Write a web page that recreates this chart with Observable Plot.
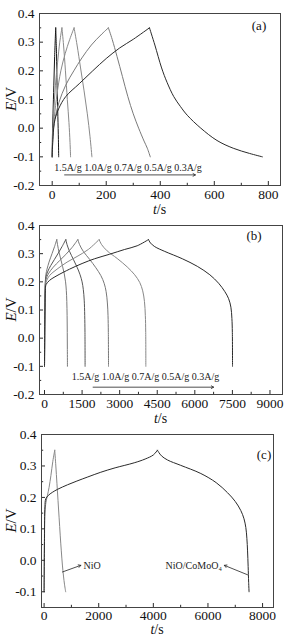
<!DOCTYPE html>
<html><head><meta charset="utf-8">
<script src="https://cdn.jsdelivr.net/npm/d3@7"></script>
<script src="https://cdn.jsdelivr.net/npm/@observablehq/plot@0.6"></script>
<style>
body{margin:0;background:#fff;}
#chart{width:293px;}
#chart svg{display:block;}
</style></head><body><div id="chart"></div>
<script>
// ---------- Panel (a): galvanostatic charge/discharge, short time range; [t (s), E (V)]
const rateLabels = ["1.5A/g", "1.0A/g", "0.7A/g", "0.5A/g", "0.3A/g"];
const a_15 = [[0,-0.1],[1,-0.02],[3,0.05],[6,0.15],[9,0.25],[13,0.35],[16,0.26],[18,0.15],[21,0.04],[23,-0.04],[24,-0.1]];
const a_10 = [[0,-0.1],[2,-0.02],[6,0.06],[12,0.15],[20,0.23],[28,0.3],[36,0.35],[42,0.29],[49,0.2],[56,0.1],[62,0.02],[66,-0.05],[68,-0.1]];
const a_07 = [[0,-0.1],[3,-0.02],[8,0.04],[18,0.12],[32,0.2],[48,0.26],[65,0.31],[81,0.35],[92,0.29],[105,0.21],[118,0.13],[130,0.05],[140,-0.03],[147,-0.1]];
const a_05 = [[0,-0.1],[3,-0.02],[10,0.03],[25,0.09],[50,0.15],[80,0.2],[110,0.245],[145,0.29],[180,0.325],[208,0.35],[222,0.31],[240,0.25],[260,0.18],[280,0.11],[300,0.05],[320,0.0],[340,-0.045],[352,-0.07],[363,-0.1]];
const a_03 = [[0,-0.1],[3,-0.03],[10,0.03],[25,0.07],[50,0.11],[100,0.155],[150,0.2],[200,0.243],[250,0.28],[300,0.31],[360,0.35],[380,0.29],[405,0.21],[425,0.16],[450,0.11],[475,0.075],[500,0.045],[550,0.0],[610,-0.043],[670,-0.07],[730,-0.088],[778,-0.1]];

// ---------- Panel (b): long-duration charge/discharge
const b_15 = [[0,-0.1],[10,0.05],[20,0.15],[35,0.205],[60,0.228],[100,0.245],[180,0.27],[300,0.3],[400,0.325],[490,0.35],[520,0.332],[580,0.305],[650,0.28],[720,0.255],[790,0.228],[840,0.2],[870,0.17],[890,0.13],[902,0.08],[908,0.02],[912,-0.04],[915,-0.1]];
const b_10 = [[0,-0.1],[10,0.05],[20,0.14],[35,0.198],[60,0.218],[120,0.235],[250,0.258],[400,0.28],[550,0.302],[700,0.325],[850,0.35],[900,0.332],[1000,0.308],[1150,0.28],[1300,0.252],[1420,0.225],[1500,0.2],[1550,0.172],[1585,0.135],[1605,0.08],[1615,0.02],[1620,-0.1]];
const b_07 = [[0,-0.1],[10,0.05],[20,0.13],[35,0.19],[60,0.208],[150,0.228],[350,0.252],[600,0.275],[850,0.297],[1100,0.322],[1330,0.35],[1400,0.332],[1550,0.308],[1800,0.28],[2050,0.25],[2250,0.222],[2380,0.195],[2460,0.165],[2510,0.125],[2535,0.08],[2548,0.02],[2555,-0.1]];
const b_05 = [[0,-0.1],[10,0.05],[20,0.12],[35,0.18],[60,0.198],[200,0.222],[500,0.245],[900,0.27],[1300,0.29],[1750,0.315],[2180,0.35],[2280,0.332],[2500,0.31],[2900,0.283],[3300,0.253],[3600,0.225],[3800,0.198],[3920,0.168],[3990,0.13],[4025,0.08],[4040,0.02],[4045,-0.1]];
const b_03 = [[0,-0.1],[10,0.05],[20,0.11],[35,0.17],[60,0.19],[200,0.205],[500,0.222],[1000,0.245],[1500,0.265],[2000,0.282],[2600,0.298],[3200,0.315],[3700,0.328],[4150,0.35],[4230,0.338],[4400,0.325],[4800,0.308],[5500,0.282],[6100,0.255],[6600,0.225],[6950,0.195],[7200,0.165],[7350,0.14],[7440,0.11],[7480,0.07],[7498,0.02],[7505,-0.1]];

// ---------- Panel (c): NiO vs NiO/CoMoO4
const materials = ["NiO", "NiO/CoMoO₄"];
const c_NiO = [[0,-0.1],[10,0.05],[30,0.15],[70,0.185],[120,0.205],[183,0.232],[250,0.27],[320,0.315],[390,0.35],[430,0.3],[470,0.245],[510,0.19],[550,0.135],[590,0.08],[630,0.03],[670,-0.015],[710,-0.05],[750,-0.078],[790,-0.1]];
const c_NiCo = [[0,-0.1],[15,0.07],[30,0.17],[60,0.195],[150,0.206],[300,0.216],[500,0.226],[855,0.24],[1200,0.252],[1600,0.265],[2076,0.28],[2600,0.294],[3300,0.31],[3700,0.322],[4000,0.335],[4150,0.35],[4200,0.343],[4300,0.332],[4518,0.319],[5000,0.302],[5739,0.276],[6300,0.247],[6716,0.215],[7000,0.187],[7204,0.158],[7320,0.132],[7387,0.104],[7425,0.07],[7450,0.03],[7472,-0.02],[7490,-0.07],[7505,-0.1]];

// ---------- Tick values
const aXMajor = [0,200,400,600,800], aXMinor = [100,300,500,700];
const bXMajor = [0,1500,3000,4500,6000,7500,9000], bXMinor = [750,2250,3750,5250,6750,8250];
const cXMajor = [0,2000,4000,6000,8000], cXMinor = [1000,3000,5000,7000];
const abYMajor = [-0.2,-0.1,0,0.1,0.2,0.3,0.4], abYMinor = [-0.15,-0.05,0.05,0.15,0.25,0.35];
const cYMajor = [-0.1,0,0.1,0.2,0.3,0.4], cYMinor = [-0.05,0.05,0.15,0.25,0.35];

const FONT = "Liberation Serif, Times New Roman, serif";
const INK = "#2a2a2a";

// split a charge/discharge curve at its peak so each branch is smoothed separately (sharp peak)
function branches(data) {
  let k = 0;
  data.forEach((d, i) => { if (d[1] > data[k][1]) k = i; });
  return [data.slice(0, k + 1), data.slice(k)];
}

function panel(o) {
  const [mt, mr, mb, ml] = o.margins;
  const W = 293, H = o.height;
  const ph = H - mt - mb, pw = W - ml - mr;
  const ty = (o.yDomain[1] - o.yDomain[0]) / ph;
  const tx = (o.xDomain[1] - o.xDomain[0]) / pw;
  const y0 = o.yDomain[0], x0 = o.xDomain[0];
  const lines = [];
  o.series.forEach(s => branches(s.data).forEach(part =>
    lines.push(Plot.line(part, {x: d => d[0], y: d => d[1], stroke: s.color, strokeWidth: 1, curve: "catmull-rom"}))));
  const marks = [
    ...lines,
    Plot.ruleX(o.xMajor, {x: d => d, y1: y0, y2: y0 + 4 * ty, stroke: INK}),
    Plot.ruleX(o.xMinor, {x: d => d, y1: y0, y2: y0 + 2.2 * ty, stroke: INK}),
    Plot.ruleY(o.yMajor, {y: d => d, x1: x0, x2: x0 + 4 * tx, stroke: INK}),
    Plot.ruleY(o.yMinor, {y: d => d, x1: x0, x2: x0 + 2.2 * tx, stroke: INK}),
    Plot.axisX(o.xMajor, {tickSize: 0, tickPadding: o.xPad, label: null, fill: "#111", fontSize: 13.5, tickFormat: d => String(d)}),
    Plot.axisY(o.yMajor, {tickSize: 0, tickPadding: 5, label: null, fill: "#111", fontSize: 13.5, tickFormat: d => d.toFixed(1)}),
    Plot.frame({stroke: "#444", strokeWidth: 1}),
    ...(o.extra || [])
  ];
  const fig = Plot.plot({
    width: W, height: H,
    marginTop: mt, marginRight: mr, marginBottom: mb, marginLeft: ml,
    x: {domain: o.xDomain}, y: {domain: o.yDomain},
    style: {fontFamily: FONT, fontSize: "13.5px", background: "#fff", color: "#111", overflow: "visible"},
    marks
  });
  const svg = d3.select(fig);
  const yr = fig.scale("y").range, xr = fig.scale("x").range;
  const cy = (yr[0] + yr[1]) / 2, cx = (xr[0] + xr[1]) / 2;
  const yl = svg.append("text")
    .attr("transform", `translate(11,${cy}) rotate(-90)`)
    .attr("text-anchor", "middle").attr("dy", "0.35em")
    .attr("font-family", FONT).attr("font-size", 15).attr("fill", "#111");
  yl.append("tspan").attr("font-style", "italic").text("E");
  yl.append("tspan").text("/V");
  const xl = svg.append("text")
    .attr("x", cx).attr("y", yr[0] + o.xLabelDy).attr("dy", "0.35em")
    .attr("text-anchor", "middle")
    .attr("font-family", FONT).attr("font-size", 14).attr("fill", "#111");
  xl.append("tspan").attr("font-style", "italic").text("t");
  xl.append("tspan").text("/s");
  svg.append("text")
    .attr("x", xr[1] - o.tagDx).attr("y", yr[1] + o.tagDy).attr("dy", "0.35em")
    .attr("text-anchor", "middle")
    .attr("font-family", FONT).attr("font-size", 13).attr("fill", "#111")
    .text(o.tag);
  return fig;
}

const rateText = rateLabels.join(" ");
const arrowStyle = {stroke: "#222", strokeWidth: 0.8, headLength: 5, bend: 0};

const figA = panel({
  height: 212, margins: [13, 13, 27, 39],
  xDomain: [-47, 845], yDomain: [-0.2, 0.4],
  xMajor: aXMajor, xMinor: aXMinor, yMajor: abYMajor, yMinor: abYMinor,
  xPad: 4, xLabelDy: 24,
  series: [
    {data: a_15, color: "#151515"}, {data: a_10, color: "#8a8a8a"}, {data: a_07, color: "#8a8a8a"},
    {data: a_05, color: "#7a7a7a"}, {data: a_03, color: "#2a2a2a"}
  ],
  extra: [
    Plot.text([rateText], {x: 8, y: -0.137, text: d => d, textAnchor: "start", fontSize: 10, fill: "#222"}),
    Plot.arrow([0], {x1: 46, y1: -0.163, x2: 530, y2: -0.163, ...arrowStyle})
  ],
  tag: "(a)", tagDx: 21, tagDy: 12
});

const figB = panel({
  height: 210, margins: [13, 11, 28, 39],
  xDomain: [-200, 9500], yDomain: [-0.2, 0.4],
  xMajor: bXMajor, xMinor: bXMinor, yMajor: abYMajor, yMinor: abYMinor,
  xPad: 4, xLabelDy: 24,
  series: [
    {data: b_15, color: "#7a7a7a"}, {data: b_10, color: "#555"}, {data: b_07, color: "#777"},
    {data: b_05, color: "#888"}, {data: b_03, color: "#2a2a2a"}
  ],
  extra: [
    Plot.text([rateText], {x: 1090, y: -0.1375, text: d => d, textAnchor: "start", fontSize: 10, fill: "#222"}),
    Plot.arrow([0], {x1: 1940, y1: -0.174, x2: 6750, y2: -0.174, ...arrowStyle})
  ],
  tag: "(b)", tagDx: 28, tagDy: 10
});

const figC = panel({
  height: 214, margins: [12, 20, 29, 41],
  xDomain: [-95, 8400], yDomain: [-0.15, 0.4],
  xMajor: cXMajor, xMinor: cXMinor, yMajor: cYMajor, yMinor: cYMinor,
  xPad: 3, xLabelDy: 22,
  series: [
    {data: c_NiO, color: "#888"}, {data: c_NiCo, color: "#2a2a2a"}
  ],
  extra: [
    Plot.text([materials[0]], {x: 1440, y: -0.019, text: d => d, textAnchor: "start", fontSize: 10, fill: "#222"}),
    Plot.arrow([0], {x1: 674, y1: -0.037, x2: 1344, y2: -0.016, ...arrowStyle}),
    Plot.text([materials[1]], {x: 4450, y: -0.019, text: d => d, textAnchor: "start", fontSize: 10, fill: "#222"}),
    Plot.arrow([0], {x1: 7450, y1: -0.046, x2: 6600, y2: -0.016, ...arrowStyle})
  ],
  tag: "(c)", tagDx: 9, tagDy: 20
});

const root = document.getElementById("chart");
root.append(figA, figB, figC);
</script>
</body></html>
